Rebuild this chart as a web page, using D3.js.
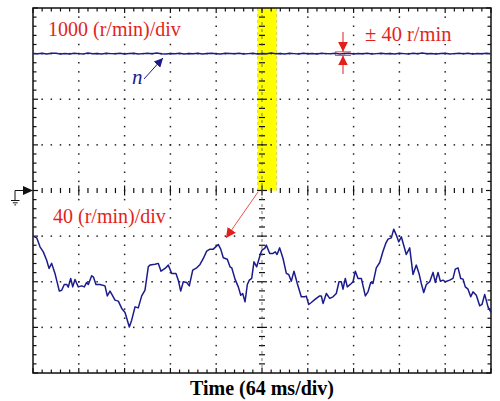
<!DOCTYPE html>
<html>
<head>
<meta charset="utf-8">
<script src="https://cdn.jsdelivr.net/npm/d3@7/dist/d3.min.js"></script>
<style>
  html, body { margin: 0; padding: 0; background: #fff; }
  svg { display: block; }
  text { font-family: "Liberation Serif", "Times New Roman", serif; }
</style>
</head>
<body>
<svg id="scope" width="500" height="401"></svg>
<script>
// Screen: 10 horizontal x 8 vertical divisions
const timePerDiv = 64;               // ms/div
const divsX = 10, divsY = 8, minorPerDiv = 5;

// Channel 1: speed n, 1000 (r/min)/div, ground at the centre line
const ch1PerDiv = 1000;
const ch1Speed = [3004, 2996, 3008, 2992, 3006, 3010, 2994, 3002, 2990, 3008, 3000, 2994, 3012, 2998, 3004,
  2992, 3006, 3000, 2996, 3010, 2994, 3004, 3008, 2992, 3000, 3006, 2996, 3012, 2998, 2990, 3004, 3000,
  3008, 2994, 3002, 2996, 3010, 2992, 3004, 3006, 2998, 2990, 3008, 3002, 2996, 3010, 2994, 3000, 3006,
  2992, 3004, 2998, 3012, 2996, 3002, 2990, 3006, 3000, 2994, 3008, 2998, 3004, 2992, 3010, 3000, 2996,
  3006, 2994, 3002, 3008, 2990, 3004, 2998, 3010, 2994, 3000, 3006, 2996, 3002, 2992, 3008, 3000, 2994,
  3006, 2998, 3012, 2996, 3002, 2990, 3004, 3008, 2994, 3000, 3006, 2996, 3010, 2992, 3002, 2998, 3006, 3000];
const ch1Nominal = 3000, ch1Band = 40;   // ± 40 r/min band

// Channel 2: speed ripple, 40 (r/min)/div, zero two divisions below centre
const ch2PerDiv = 40;
const ch2Offset = -2;                 // divisions
const ch2Time = [0, 5.2, 9.8, 14.4, 19.1, 22.4, 26.1, 30.7, 36.8, 40.1, 43.7, 47.1, 49.3, 52.7, 55.5, 58.7,
  63.3, 68.1, 71.7, 75.0, 77.3, 82.0, 84.3, 88.0, 93.6, 100.6, 103.8, 107.6, 110.8, 114.6, 119.2, 124.0,
  128.6, 134.6, 137.9, 142.6, 147.1, 151.9, 156.5, 161.1, 163.5, 170.5, 175.1, 178.9, 184.5, 189.1, 193.8,
  199.8, 203.0, 206.4, 210.0, 214.8, 218.4, 223.2, 228.8, 233.4, 238.0, 242.7, 247.3, 252.0, 255.3, 258.9,
  262.3, 265.9, 271.5, 275.3, 277.7, 282.3, 286.9, 290.3, 293.0, 296.3, 299.5, 302.3, 305.6, 308.8, 312.6,
  318.0, 320.0, 323.8, 326.0, 330.8, 335.4, 338.6, 341.0, 344.7, 349.4, 354.0, 357.3, 361.0, 364.7, 369.3,
  374.9, 379.7, 381.9, 385.3, 388.9, 394.5, 400.6, 402.9, 405.3, 409.9, 414.6, 419.2, 423.8, 427.6, 430.8,
  433.2, 436.4, 439.2, 444.8, 447.2, 450.4, 454.2, 458.8, 464.4, 468.1, 471.9, 475.1, 479.7, 484.5, 489.1,
  492.9, 496.1, 500.7, 504.1, 507.7, 511.0, 514.7, 521.6, 526.4, 531.0, 535.6, 539.4, 542.6, 546.0, 549.6,
  554.4, 559.0, 562.2, 566.0, 569.2, 572.9, 576.2, 582.3, 586.9, 590.1, 593.9, 597.7, 600.9, 604.1, 607.9,
  611.7, 614.9, 619.5, 624.2, 627.4, 631.2, 635.8, 640];
const ch2Ripple = [40, 38.5, 30.6, 26.2, 18.9, 11.7, 16.1, 7.3, -8.2, -7.4, -2.4, -2.4, -4.7, 2.9, -4.5, 2.0,
  -4.5, -3.6, -4.5, -0.6, -2.4, 5.2, 4.3, -2.4, -2.4, -3.6, -12.4, -8.2, -11.8, -16.1, -17.0, -23.4,
  -26.9, -39.6, -33.7, -22.0, -22.9, -12.4, -7.4, 13.1, 14.6, 15.4, 16.1, 9.3, 11.7, 14.6, 7.3,
  7.3, 1.4, -8.2, 0, -0.6, -3.6, 10.2, 12.2, 15.2, 20.4, 26.8, 28.6, 28.6, 30.6, 32.7,
  28.6, 21.0, 19.8, 13.1, 12.2, 2.3, -4.5, -11.8, -10.3, -17.6, -2.4, 1.4, 2.9, 17.5, 13.1,
  24.8, 27.7, 29.2, 32.1, 24.8, 24.8, 26.2, 23.9, 29.7, 20.4, 7.3, 6.4, 0.5, 9.3, -1.5,
  -13.2, -13.2, -12.6, -19.9, -18.2, -15.3, -12.4, -12.4, -19.0, -10.3, -14.6, -13.2, -10.3, 0, 0,
  -6.5, 2.9, -4.5, -1.5, 0, 9.3, 2.9, 2.9, -12.4, -8.9, -0.6, -1.5, 12.2, 16.9, 26.8,
  33.6, 37.4, 38.5, 46.1, 40.9, 35.0, 39.4, 23.9, 29.7, 6.4, 14.6, 7.3, -1.5, -9.4, -2.4,
  0, 8.2, -0.6, 8.2, 0.5, 1.4, 0, 1.4, 2.9, 11.1, 12.2, 2.9, 2.3, -4.5, -6.5,
  -13.2, -8.9, -11.8, -21.1, -19.9, -11.1, -22.0, -26.9];

// Labels
const ch1Label = "1000 (r/min)/div";
const ch2Label = "40 (r/min)/div";
const bandLabel = "± 40 r/min";
const traceName = "n";
const xTitle = "Time (64 ms/div)";

// Cursor window (highlighted time span), ms
const cursorSpan = [314.0, 340.5];

const svg = d3.select("#scope");
const L = 33, R = 491, T = 8, B = 373;
const red = "#e31f1c", navy = "#1b1b8c";

const x = d3.scaleLinear().domain([0, divsX * timePerDiv]).range([L, R]);
const yDiv = d3.scaleLinear().domain([-divsY / 2, divsY / 2]).range([B, T]);
const y1 = d3.scaleLinear().domain([-divsY / 2 * ch1PerDiv, divsY / 2 * ch1PerDiv]).range([B, T]);
const y2 = d3.scaleLinear()
  .domain([(-divsY / 2 - ch2Offset) * ch2PerDiv, (divsY / 2 - ch2Offset) * ch2PerDiv]).range([B, T]);

const xMinor = d3.range(0, divsX * minorPerDiv + 1).map(i => x(i * timePerDiv / minorPerDiv));
const yMinor = d3.range(0, divsY * minorPerDiv + 1).map(i => yDiv(-divsY / 2 + i / minorPerDiv));
const isMajor = i => i % minorPerDiv === 0;

// Cursor highlight
svg.append("rect")
  .attr("x", x(cursorSpan[0])).attr("y", T)
  .attr("width", x(cursorSpan[1]) - x(cursorSpan[0])).attr("height", yDiv(0) - T)
  .attr("fill", "#ffff00");
[cursorSpan[0], cursorSpan[1]].forEach(t => {
  svg.append("line")
    .attr("x1", x(t)).attr("x2", x(t)).attr("y1", T).attr("y2", yDiv(0))
    .attr("stroke", "#c8c070").attr("stroke-width", 0.8).attr("stroke-dasharray", "3,3");
});

// Dotted graticule
const grid = svg.append("g").attr("fill", "#222");
for (let k = 1; k < divsX; k++) {
  if (k === divsX / 2) continue;
  const gx = x(k * timePerDiv);
  yMinor.forEach((py, i) => {
    if (i === 0 || i === yMinor.length - 1) return;
    grid.append("rect").attr("x", gx - 0.75).attr("y", py - 0.75).attr("width", 1.5).attr("height", 1.5);
  });
}
for (let k = 1; k < divsY; k++) {
  if (k === divsY / 2) continue;
  const gy = yDiv(-divsY / 2 + k);
  xMinor.forEach((px, i) => {
    if (i === 0 || i === xMinor.length - 1) return;
    grid.append("rect").attr("x", px - 0.75).attr("y", gy - 0.75).attr("width", 1.5).attr("height", 1.5);
  });
}

// Centre axes with minor ticks
const ax = svg.append("g").attr("stroke", "#111").attr("stroke-width", 1.2);
const cy = yDiv(0), cx = x(divsX / 2 * timePerDiv);
xMinor.forEach((px, i) => {
  if (i === 0 || i === xMinor.length - 1) return;
  const h = isMajor(i) ? 5 : 2.6;
  ax.append("line").attr("x1", px).attr("x2", px).attr("y1", cy - h).attr("y2", cy + h);
});
yMinor.forEach((py, i) => {
  if (i === 0 || i === yMinor.length - 1) return;
  const w = isMajor(i) ? 5 : 3;
  ax.append("line").attr("x1", cx - w).attr("x2", cx + w).attr("y1", py).attr("y2", py);
});
svg.append("line").attr("x1", cx).attr("x2", cx).attr("y1", T).attr("y2", B)
  .attr("stroke", "#555").attr("stroke-width", 0.8).attr("stroke-dasharray", "3,4");

// Border ticks
const bt = svg.append("g").attr("stroke", "#111").attr("stroke-width", 1.2);
xMinor.forEach((px, i) => {
  const h = isMajor(i) ? 5 : 3.5;
  bt.append("line").attr("x1", px).attr("x2", px).attr("y1", T).attr("y2", T + h);
  bt.append("line").attr("x1", px).attr("x2", px).attr("y1", B).attr("y2", B - h);
});
yMinor.forEach((py, i) => {
  const w = isMajor(i) ? 5 : 3.5;
  bt.append("line").attr("x1", L).attr("x2", L + w).attr("y1", py).attr("y2", py);
  bt.append("line").attr("x1", R).attr("x2", R - w).attr("y1", py).attr("y2", py);
});
svg.append("rect").attr("x", L).attr("y", T).attr("width", R - L).attr("height", B - T)
  .attr("fill", "none").attr("stroke", "#111").attr("stroke-width", 1.5);

// Ground reference marker
const gm = svg.append("g").attr("stroke", "#111").attr("stroke-width", 1).attr("fill", "none");
gm.append("path").attr("d", `M15,${cy + 10} V${cy} H24`);
svg.append("path").attr("d", `M${L},${cy} L23,${cy - 4.5} L23,${cy + 4.5} Z`).attr("fill", "#111");
[[11, 19.5, 10], [12.8, 17.7, 12.3], [14.4, 16.1, 14.4]].forEach(([a, b, dy]) => {
  gm.append("line").attr("x1", a).attr("x2", b).attr("y1", cy + dy).attr("y2", cy + dy);
});

// Labels on white boxes, so the graticule does not run through them
function label(tx, ty, str, size, color, opts = {}) {
  const g = svg.append("g");
  const t = g.append("text").attr("x", tx).attr("y", ty).text(str)
    .attr("font-size", size).attr("fill", color);
  if (opts.italic) t.attr("font-style", "italic");
  if (opts.bold) t.attr("font-weight", "bold");
  if (opts.anchor) t.attr("text-anchor", opts.anchor);
  if (opts.box) {
    const bb = t.node().getBBox();
    g.insert("rect", "text").attr("x", bb.x - 2).attr("y", bb.y + 1)
      .attr("width", bb.width + 4).attr("height", bb.height - 2).attr("fill", "#fff");
  }
  return t;
}

// Traces
const ch1Time = ch1Speed.map((_, i) => i * divsX * timePerDiv / (ch1Speed.length - 1));
svg.append("path")
  .datum(ch1Speed.map((v, i) => [ch1Time[i], v]))
  .attr("d", d3.line().x(d => x(d[0])).y(d => y1(d[1])))
  .attr("fill", "none").attr("stroke", navy).attr("stroke-width", 1.5);
svg.append("path")
  .datum(ch2Ripple.map((v, i) => [ch2Time[i], v]))
  .attr("d", d3.line().x(d => x(d[0])).y(d => y2(d[1])))
  .attr("fill", "none").attr("stroke", navy).attr("stroke-width", 1.5).attr("stroke-linejoin", "round");

// Arrow heads
const defs = svg.append("defs");
function marker(id, color, size) {
  defs.append("marker").attr("id", id).attr("viewBox", "0 0 10 10")
    .attr("refX", 10).attr("refY", 5).attr("markerWidth", size).attr("markerHeight", size)
    .attr("markerUnits", "userSpaceOnUse").attr("orient", "auto")
    .append("path").attr("d", "M0,0 L10,5 L0,10 Z").attr("fill", color);
}
marker("hRed", red, 10);
marker("hNavy", navy, 9);

// ± band annotation
const bx = 343;
const bandTop = y1(ch1Nominal + ch1Band), bandBot = y1(ch1Nominal - ch1Band);
[bandTop, bandBot].forEach(by => {
  svg.append("line").attr("x1", bx - 8).attr("x2", bx + 8).attr("y1", by).attr("y2", by)
    .attr("stroke", red).attr("stroke-width", 0.8);
});
svg.append("line").attr("x1", bx).attr("x2", bx).attr("y1", 32).attr("y2", bandTop)
  .attr("stroke", red).attr("stroke-width", 1).attr("marker-end", "url(#hRed)");
svg.append("line").attr("x1", bx).attr("x2", bx).attr("y1", 74).attr("y2", bandBot)
  .attr("stroke", red).attr("stroke-width", 1).attr("marker-end", "url(#hRed)");

// Pointer from the cursor window to the ripple trace
svg.append("line").attr("x1", 258).attr("y1", 192).attr("x2", 226).attr("y2", 238)
  .attr("stroke", "#f05050").attr("stroke-width", 1).attr("marker-end", "url(#hRed)");

// Trace name pointer
svg.append("line").attr("x1", 144).attr("y1", 79).attr("x2", 163).attr("y2", 58)
  .attr("stroke", navy).attr("stroke-width", 1).attr("marker-end", "url(#hNavy)");
label(132, 84, traceName, 21, navy, { italic: true });

label(48, 36, ch1Label, 20, red, { box: true });
label(365, 41, bandLabel, 20.5, red, { box: true });
label(53, 223, ch2Label, 20, red, { box: true });
label(262, 395, xTitle, 20, "#000", { bold: true, anchor: "middle" });
</script>
</body>
</html>
